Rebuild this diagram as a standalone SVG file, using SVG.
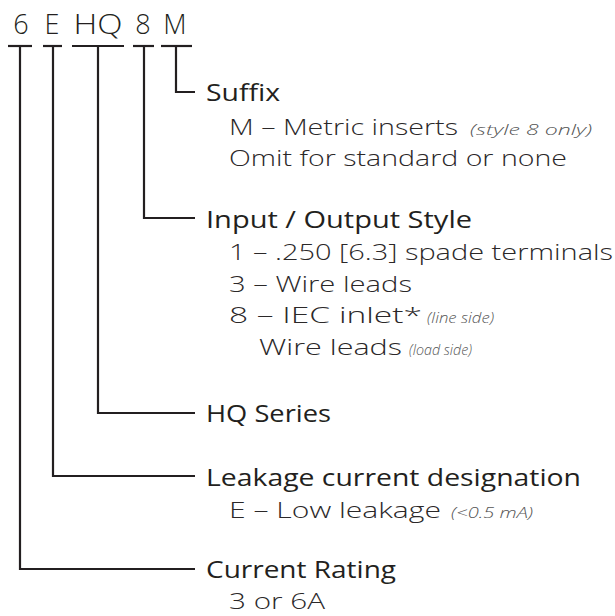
<svg xmlns="http://www.w3.org/2000/svg" width="615" height="616" viewBox="0 0 615 616">
<style>
text{font-family:"Open Sans","Liberation Sans",sans-serif;fill:#231f20}
.code{font-size:27px;font-weight:300;text-anchor:middle}
.h{font-size:24px;font-weight:500}
.s{font-size:22px;font-weight:300;fill:#2b2829}
.n{font-size:14px;font-style:italic;font-weight:300;fill:#555}
.bar,.conn{stroke:#231f20;stroke-width:2.2;fill:none}
</style>
<rect width="615" height="616" fill="#ffffff"/>
<g id="code">
<text class="code" x="21" y="34">6</text>
<text class="code" x="52" y="34">E</text>
<text class="code" x="98" y="34" textLength="49" lengthAdjust="spacingAndGlyphs">HQ</text>
<text class="code" x="143" y="34">8</text>
<text class="code" x="175" y="34">M</text>
<line class="bar" x1="8" y1="46" x2="32" y2="46"/>
<line class="bar" x1="43" y1="46" x2="62" y2="46"/>
<line class="bar" x1="72" y1="46" x2="124" y2="46"/>
<line class="bar" x1="133" y1="46" x2="154" y2="46"/>
<line class="bar" x1="161" y1="46" x2="192" y2="46"/>
</g>
<g id="connectors">
<polyline class="conn" points="176,46 176,92 195,92"/>
<polyline class="conn" points="144,46 144,218 195,218"/>
<polyline class="conn" points="98,46 98,413 195,413"/>
<polyline class="conn" points="53,46 53,476 195,476"/>
<polyline class="conn" points="20,46 20,569 195,569"/>
</g>
<g id="suffix">
<text class="h" x="206" y="101" textLength="74" lengthAdjust="spacingAndGlyphs">Suffix</text>
<text class="s" x="229" y="135" textLength="229" lengthAdjust="spacingAndGlyphs">M – Metric inserts</text>
<text class="n" x="470" y="135" textLength="122" lengthAdjust="spacingAndGlyphs">(style 8 only)</text>
<text class="s" x="229" y="166" textLength="338" lengthAdjust="spacingAndGlyphs">Omit for standard or none</text>
</g>
<g id="io-style">
<text class="h" x="206" y="228" textLength="266" lengthAdjust="spacingAndGlyphs">Input / Output Style</text>
<text class="s" x="229" y="260" textLength="384" lengthAdjust="spacingAndGlyphs">1 – .250 [6.3] spade terminals</text>
<text class="s" x="229" y="292" textLength="183" lengthAdjust="spacingAndGlyphs">3 – Wire leads</text>
<text class="s" x="229" y="323" textLength="193" lengthAdjust="spacingAndGlyphs">8 – IEC inlet*</text>
<text class="n" x="427" y="323" textLength="67" lengthAdjust="spacingAndGlyphs">(line side)</text>
<text class="s" x="259" y="355" textLength="143" lengthAdjust="spacingAndGlyphs">Wire leads</text>
<text class="n" x="409" y="355" textLength="63" lengthAdjust="spacingAndGlyphs">(load side)</text>
</g>
<g id="hq-series">
<text class="h" x="206" y="422" textLength="125" lengthAdjust="spacingAndGlyphs">HQ Series</text>
</g>
<g id="leakage">
<text class="h" x="206" y="486" textLength="375" lengthAdjust="spacingAndGlyphs">Leakage current designation</text>
<text class="s" x="229" y="518" textLength="212" lengthAdjust="spacingAndGlyphs">E – Low leakage</text>
<text class="n" x="451" y="518" textLength="82" lengthAdjust="spacingAndGlyphs">(&lt;0.5 mA)</text>
</g>
<g id="current-rating">
<text class="h" x="206" y="578" textLength="190" lengthAdjust="spacingAndGlyphs">Current Rating</text>
<text class="s" x="229" y="609" textLength="96" lengthAdjust="spacingAndGlyphs">3 or 6A</text>
</g>
</svg>
